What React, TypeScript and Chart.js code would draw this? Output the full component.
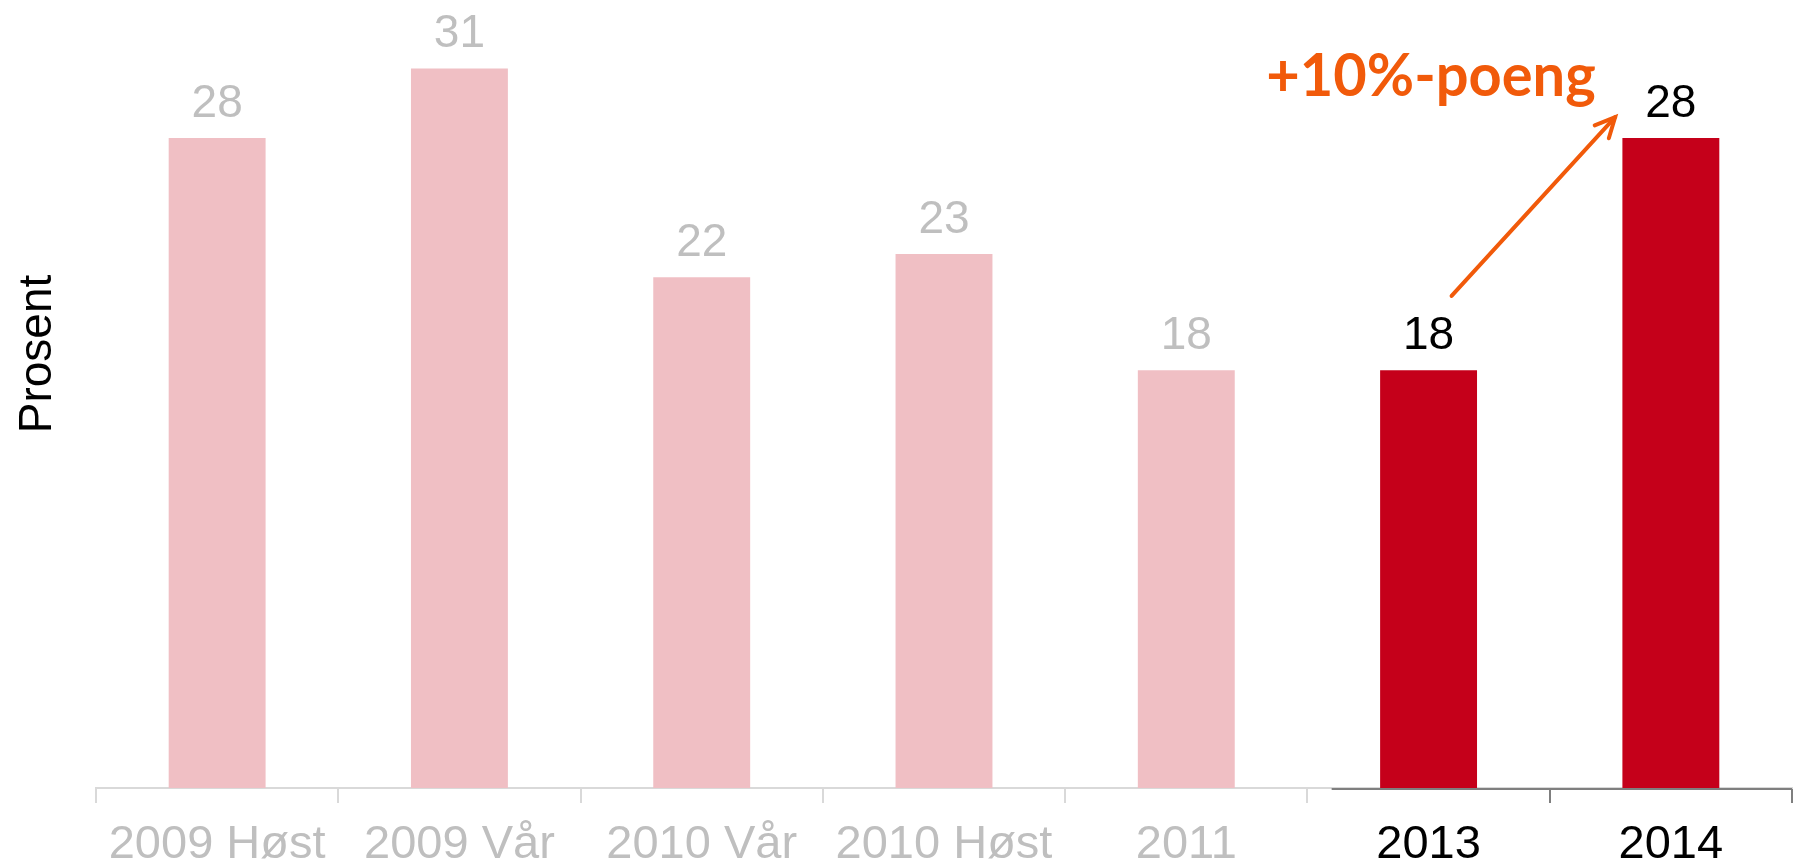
import React, { useEffect, useRef } from "react";
import { Chart, registerables } from "chart.js";

Chart.register(...registerables);

const categories = ["2009 Høst", "2009 Vår", "2010 Vår", "2010 Høst", "2011", "2013", "2014"];
const values = [28, 31, 22, 23, 18, 18, 28];
const highlightFrom = 5;
const annotationText = "+10%-poeng";
const axisTitle = "Prosent";

const PINK = "#f0bfc4";
const RED = "#c5001a";
const GREY_TEXT = "#bfbfbf";
const ORANGE = "#f15a0a";
const FONT = "'Liberation Sans', Arial, sans-serif";

export default function App() {
  const ref = useRef<HTMLCanvasElement | null>(null);

  useEffect(() => {
    if (!ref.current) return;

    const labelsPlugin = {
      id: "valueLabels",
      afterDatasetsDraw(chart: any) {
        const ctx = chart.ctx;
        const meta = chart.getDatasetMeta(0);
        ctx.save();
        ctx.font = `46px ${FONT}`;
        ctx.textAlign = "center";
        ctx.textBaseline = "alphabetic";
        meta.data.forEach((bar: any, i: number) => {
          ctx.fillStyle = i >= highlightFrom ? "#000000" : GREY_TEXT;
          ctx.fillText(String(values[i]), bar.x, bar.y - 21);
        });
        ctx.restore();
      },
    };

    const decorPlugin = {
      id: "decor",
      afterDraw(chart: any) {
        const ctx = chart.ctx;
        const xs = chart.scales.x;
        const ys = chart.scales.y;
        const w = xs.getPixelForValue(1) - xs.getPixelForValue(0);
        // dark axis segment under highlighted bars
        ctx.save();
        ctx.strokeStyle = "#7f7f7f";
        ctx.lineWidth = 2;
        ctx.beginPath();
        ctx.moveTo(xs.getPixelForValue(highlightFrom) - 0.4 * w, ys.bottom + 1);
        ctx.lineTo(xs.right, ys.bottom + 1);
        ctx.stroke();
        ctx.restore();

        // y axis title
        ctx.save();
        ctx.translate(51, (ys.top + ys.bottom) / 2 - 51);
        ctx.rotate(-Math.PI / 2);
        ctx.font = `46px ${FONT}`;
        ctx.fillStyle = "#000";
        ctx.textAlign = "center";
        ctx.textBaseline = "alphabetic";
        ctx.fillText(axisTitle, 0, 0);
        ctx.restore();

        // annotation arrow
        const x0 = xs.getPixelForValue(highlightFrom) + 0.095 * w;
        const y0 = ys.getPixelForValue(21.2);
        const x1 = xs.getPixelForValue(highlightFrom + 1) - 0.23 * w;
        const y1 = ys.getPixelForValue(28.9);
        ctx.save();
        ctx.strokeStyle = ORANGE;
        ctx.lineWidth = 4;
        ctx.lineCap = "round";
        ctx.beginPath();
        ctx.moveTo(x0, y0);
        ctx.lineTo(x1, y1);
        ctx.stroke();
        const ang = Math.atan2(y1 - y0, x1 - x0);
        const hl = 22;
        ctx.beginPath();
        ctx.moveTo(x1 - hl * Math.cos(ang - 0.45), y1 - hl * Math.sin(ang - 0.45));
        ctx.lineTo(x1, y1);
        ctx.lineTo(x1 - hl * Math.cos(ang + 0.45), y1 - hl * Math.sin(ang + 0.45));
        ctx.stroke();
        ctx.restore();

        ctx.save();
        ctx.translate(xs.getPixelForValue(highlightFrom) - 0.67 * w, ys.getPixelForValue(29.8));
        ctx.scale(0.963, 1);
        ctx.font = `bold 60px Lato, 'Open Sans', sans-serif`;
        ctx.fillStyle = ORANGE;
        ctx.textAlign = "left";
        ctx.textBaseline = "alphabetic";
        ctx.fillText(annotationText, 0, 0);
        ctx.restore();
      },
    };

    const chart = new Chart(ref.current, {
      type: "bar",
      data: {
        labels: categories,
        datasets: [
          {
            data: values,
            backgroundColor: values.map((_, i) => (i >= highlightFrom ? RED : PINK)),
            borderWidth: 0,
            categoryPercentage: 1,
            barPercentage: 0.4,
          },
        ],
      },
      options: {
        responsive: false,
        animation: false,
        layout: { padding: { left: 96, right: 4, top: 22, bottom: 0 } },
        plugins: { legend: { display: false }, tooltip: { enabled: false }, title: { display: false } },
        scales: {
          y: {
            display: false,
            min: 0,
            max: 33,
          },
          x: {
            afterFit: (scale: any) => {
              scale.height = 78;
            },
            grid: {
              offset: true,
              drawOnChartArea: false,
              drawTicks: true,
              tickLength: 15,
              lineWidth: 2,
              color: (c: any) =>
                c.index === undefined || c.index > highlightFrom ? "#7f7f7f" : "#d9d9d9",
            },
            border: { display: true, color: "#d9d9d9", width: 2 },
            ticks: {
              padding: 14,
              font: { family: FONT, size: 47 },
              color: (c: any) => (c.index >= highlightFrom ? "#000000" : GREY_TEXT),
              maxRotation: 0,
              autoSkip: false,
            },
          },
        },
      },
      plugins: [labelsPlugin, decorPlugin],
    });

    return () => chart.destroy();
  }, []);

  return (
    <div style={{ position: "fixed", left: 0, top: 0, width: 1796, height: 866, background: "#fff" }}>
      <canvas ref={ref} width={1796} height={866} />
    </div>
  );
}
